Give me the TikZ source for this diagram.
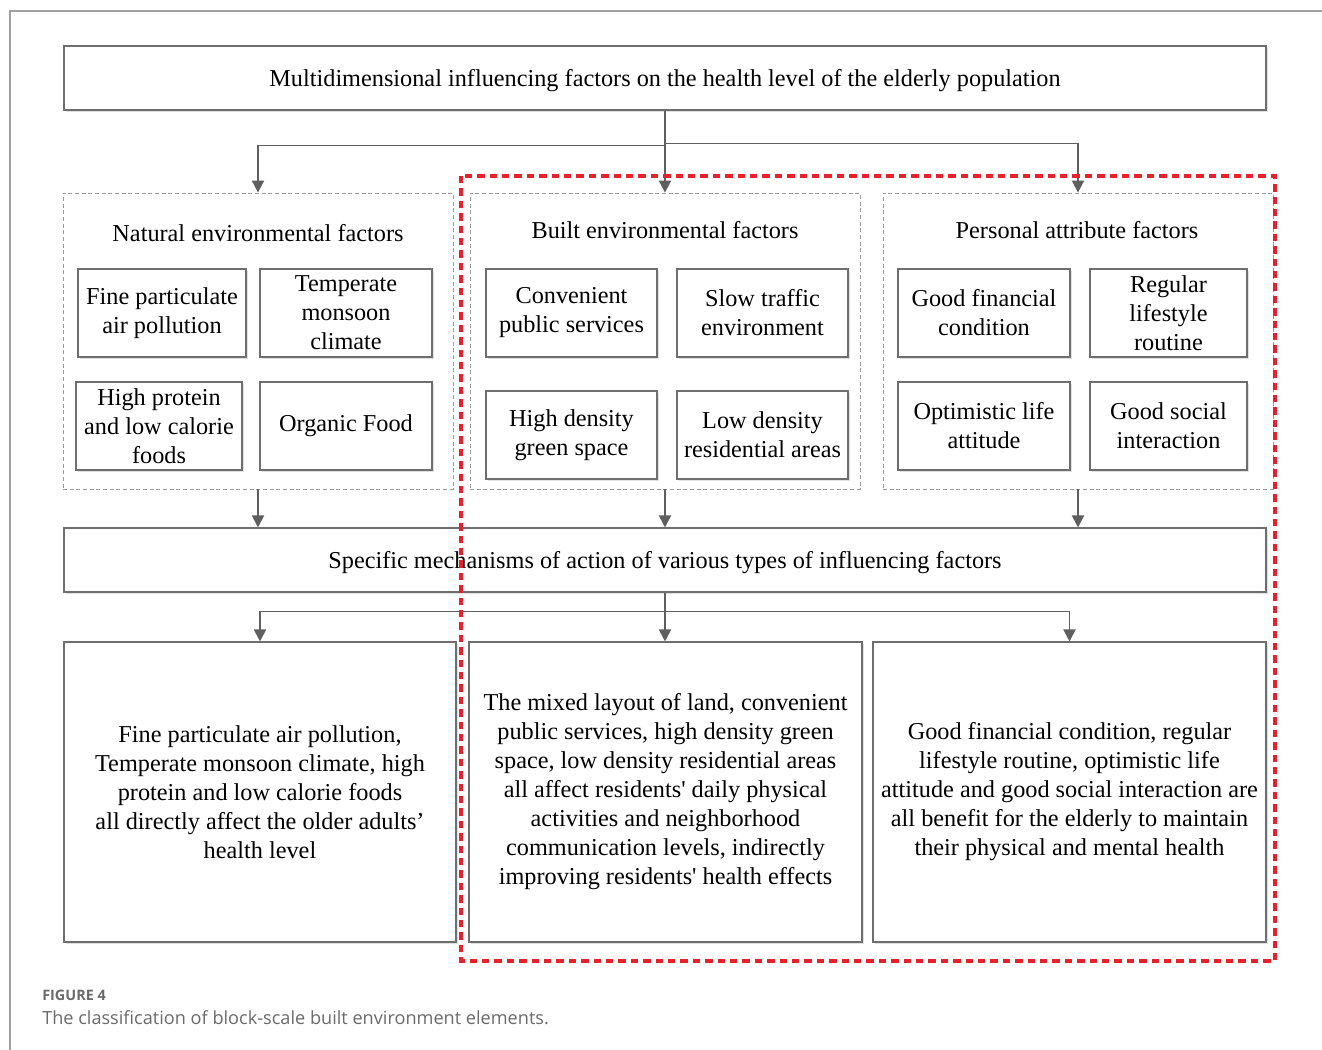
\documentclass[tikz,border=0pt]{standalone}
\usepackage{fontspec}
\setmainfont{Liberation Serif}
\newfontfamily\capfont{Open Sans}
\usetikzlibrary{arrows.meta,shadows}
\definecolor{linegray}{HTML}{5F5F5F}
\definecolor{boxgray}{HTML}{6E6E6E}
\definecolor{dashgray}{HTML}{9A9A9A}
\definecolor{framegray}{HTML}{A0A0A0}
\definecolor{focusred}{HTML}{E8202A}
\definecolor{captiongray}{HTML}{6A6A6A}
\tikzset{
  sized/.style 2 args={minimum width=#1*0.75pt, minimum height=#2*0.75pt, inner sep=0pt},
  solidbox/.style={draw=boxgray, line width=0.8pt, fill=white,
    drop shadow={shadow xshift=1.2pt, shadow yshift=-1.2pt, fill=black!12, opacity=1},
    align=center, font=\fontsize{18.2}{21.75}\selectfont},
  groupbox/.style={draw=dashgray, densely dashed, line width=0.6pt},
  grouptitle/.style={font=\fontsize{18.2}{21.75}\selectfont, anchor=center},
  arr/.style={draw=linegray, line width=1.4pt, -{Triangle[length=9pt, width=9pt]}},
  focusframe/.style={draw=focusred, line width=2.4pt, dash pattern=on 5.5pt off 3.8pt},
}
\begin{document}
\begin{tikzpicture}[x=0.75pt, y=-0.75pt]
\useasboundingbox (0,0) rectangle (1322,1050);
% page frame
\draw[framegray, line width=0.9pt] (10,1050) -- (10,11) -- (1322,11);

% top and middle boxes
\node[solidbox, sized={1202}{64}, text depth=0pt] (top) at (665,78)
  {Multidimensional influencing factors on the health level of the elderly population};
\node[solidbox, sized={1202}{64}, text depth=0pt] (mech) at (665,560)
  {Specific mechanisms of action of various types of influencing factors};

% factor groups
\node[groupbox, sized={390}{296}] (natural) at (258,341) {};
\node[groupbox, sized={390}{296}] (built) at (665,341) {};
\node[groupbox, sized={390}{296}] (personal) at (1078,341) {};
\node[grouptitle] (naturalT) at (258,233) {Natural environmental factors};
\node[grouptitle] (builtT) at (665,230) {Built environmental factors};
\node[grouptitle] (personalT) at (1077,230) {Personal attribute factors};

% natural factors
\node[solidbox, sized={168}{88}] (n1) at (162,313) {Fine particulate\\air pollution};
\node[solidbox, sized={172}{88}] (n2) at (346,313) {Temperate\\monsoon\\climate};
\node[solidbox, sized={166}{88}] (n3) at (159,426) {High protein\\and low calorie\\foods};
\node[solidbox, sized={172}{88}] (n4) at (346,426) {Organic Food};

% built factors
\node[solidbox, sized={171}{88}] (b1) at (571.5,313) {Convenient\\public services};
\node[solidbox, sized={171}{88}] (b2) at (762.5,313) {Slow traffic\\environment};
\node[solidbox, sized={171}{88}] (b3) at (571.5,435) {High density\\green space};
\node[solidbox, sized={171}{88}] (b4) at (762.5,435) {Low density\\residential areas};

% personal factors
\node[solidbox, sized={172}{88}] (p1) at (984,313) {Good financial\\condition};
\node[solidbox, sized={157}{88}] (p2) at (1168.5,313) {Regular\\lifestyle\\routine};
\node[solidbox, sized={172}{88}] (p3) at (984,426) {Optimistic life\\attitude};
\node[solidbox, sized={157}{88}] (p4) at (1168.5,426) {Good social\\interaction};

% effect boxes
\node[solidbox, sized={392}{300}] (effN) at (260,792)
  {Fine particulate air pollution,\\Temperate monsoon climate, high\\protein and low calorie foods\\all directly affect the older adults'\\health level};
\node[solidbox, sized={393}{300}] (effB) at (665.5,792)
  {The mixed layout of land, convenient\\public services, high density green\\space, low density residential areas\\all affect residents\textquotesingle{} daily physical\\activities and neighborhood\\communication levels, indirectly\\improving residents\textquotesingle{} health effects};
\node[solidbox, sized={393}{300}] (effP) at (1069.5,792)
  {Good financial condition, regular\\lifestyle routine, optimistic life\\attitude and good social interaction are\\all benefit for the elderly to maintain\\their physical and mental health};

% connectors: top box to groups
\draw[arr] (top.south) -- (built.north);
\draw[arr] (top.south) -- ++(0,35) -| (natural.north);
\draw[arr] (top.south) -- ++(0,33) -| (personal.north);

% groups to mechanism box
\draw[arr] (natural.south) -- (natural.south |- mech.north);
\draw[arr] (built.south) -- (built.south |- mech.north);
\draw[arr] (personal.south) -- (personal.south |- mech.north);

% mechanism box to effects
\draw[arr] (mech.south) -- (mech.south |- effB.north);
\draw[arr] (mech.south) -- ++(0,19) -| (effN.north);
\draw[arr] (mech.south) -- ++(0,19) -| (effP.north);

% highlighted built-environment area
\draw[focusframe] (461,176) rectangle (1275,961);

% caption
\node[anchor=west, inner sep=0pt, text=captiongray, font=\capfont\fontsize{10.8}{12}\selectfont\bfseries] (figlabel) at (42,995) {FIGURE 4};
\node[anchor=west, inner sep=0pt, text=captiongray, font=\capfont\fontsize{13.6}{15}\selectfont] (figcaption) at (42,1018) {The classification of block-scale built environment elements.};
\end{tikzpicture}
\end{document}
